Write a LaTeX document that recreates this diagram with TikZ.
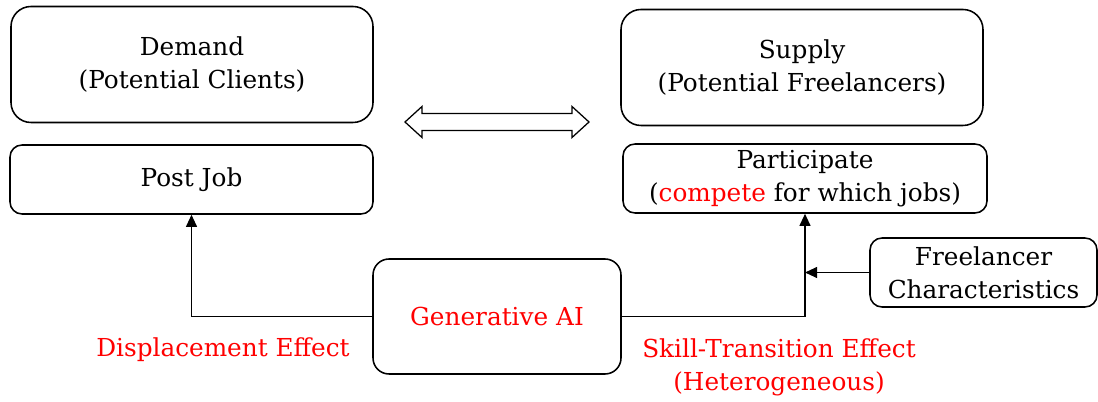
\documentclass[tikz,border=0pt]{standalone}
\usepackage{fontspec}
\setmainfont{DejaVu Serif}
\usepackage{xcolor}
\usetikzlibrary{arrows.meta,positioning}

\begin{document}
\begin{tikzpicture}[
    font=\fontsize{17.6pt}{23.5pt}\selectfont,
    box/.style={draw, line width=1.1pt, rounded corners=0.3cm, align=center, inner sep=0pt},
    bigbox/.style={box, rounded corners=0.5cm, minimum width=9.05cm, minimum height=2.9cm},
    smallbox/.style={box, minimum height=1.725cm},
    effect/.style={text=red, align=center},
    link/.style={line width=1.1pt, -{Triangle[length=0.3cm,width=0.27cm]}}]
  \useasboundingbox (0,0) rectangle (27.45,10.05);

  % demand side
  \node[bigbox] (demand) at (4.80,8.4375) {Demand\\(Potential Clients)};
  \node[smallbox, minimum width=9.075cm] (postjob) at (4.7875,5.5625) {Post Job};

  % supply side
  \node[bigbox] (supply) at (20.05,8.3625) {Supply\\(Potential Freelancers)};
  \node[smallbox, minimum width=9.1cm] (participate) at (20.125,5.5875)
    {Participate\\(\textcolor{red}{compete} for which jobs)};

  % matching between both sides
  \draw[line width=0.9pt] (10.125,7) -- (10.55,7.3875) -- (10.55,7.2125) -- (14.3,7.2125)
    -- (14.3,7.3875) -- (14.725,7) -- (14.3,6.6125) -- (14.3,6.7875)
    -- (10.55,6.7875) -- (10.55,6.6125) -- cycle;

  \node[box, rounded corners=0.4cm, minimum width=6.2cm, minimum height=2.875cm, text=red]
    (genai) at (12.425,2.1375) {Generative AI};
  \node[smallbox, minimum width=5.675cm] (freelancer) at (24.5875,3.2375)
    {Freelancer\\Characteristics};

  \draw[link] (genai.west) -| (postjob.south);
  \draw[link] (genai.east) -| (participate.south);
  \draw[link] (freelancer.west) -- (freelancer.west -| participate.south);

  \node[effect, anchor=base] (displacement) at (5.575,1.125) {Displacement Effect};
  \node[effect] (skilltransition) at (19.475,0.875) {Skill-Transition Effect\\(Heterogeneous)};
\end{tikzpicture}
\end{document}
